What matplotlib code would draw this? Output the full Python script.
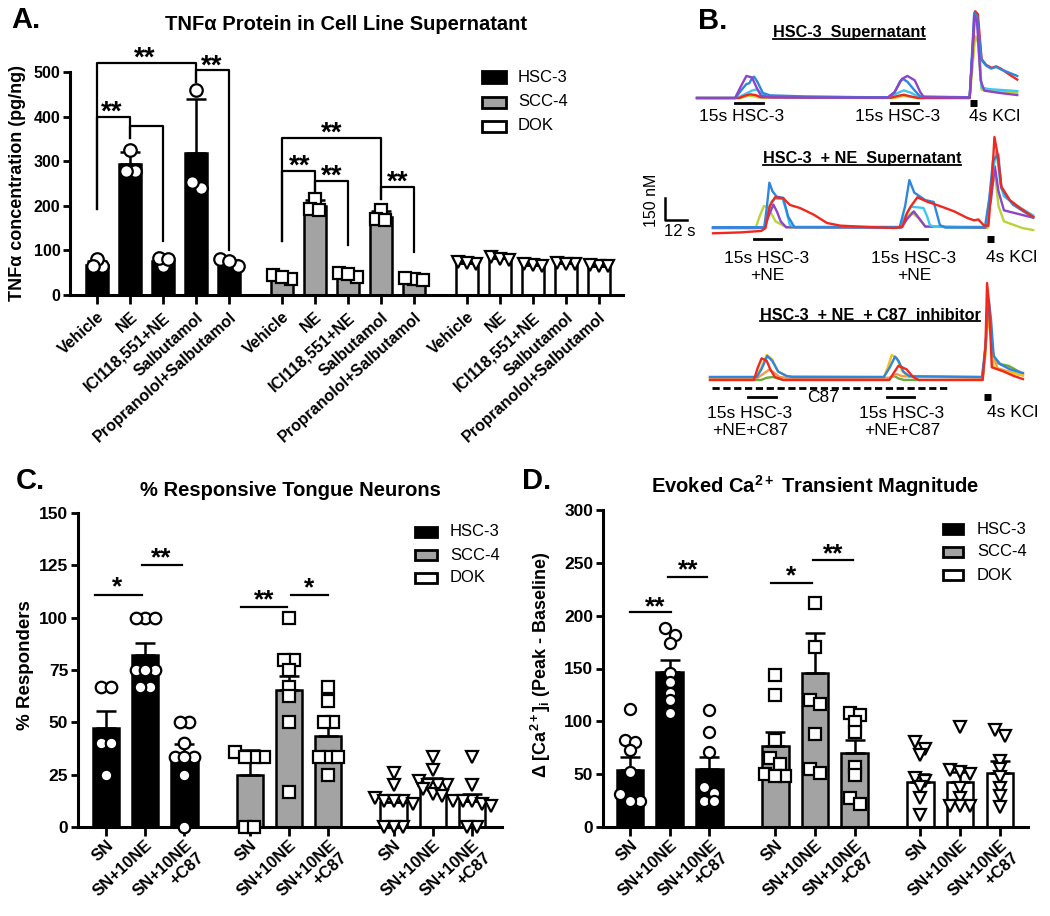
import numpy as np
import matplotlib
matplotlib.use('Agg')
import matplotlib.pyplot as plt
from matplotlib.patches import Rectangle
from matplotlib.lines import Line2D
from matplotlib.transforms import offset_copy

plt.rcParams['font.family'] = ['Liberation Sans', 'DejaVu Sans']
plt.rcParams['mathtext.fontset'] = 'custom'
plt.rcParams['mathtext.rm'] = 'Liberation Sans:bold'
plt.rcParams['mathtext.it'] = 'Liberation Sans:bold'
plt.rcParams['mathtext.bf'] = 'Liberation Sans:bold'
plt.rcParams['mathtext.default'] = 'rm'

# ---------------- data ----------------
cell_lines = ['HSC-3', 'SCC-4', 'DOK']

# A. TNFa protein (pg/ng), mean, SD and single wells
a_labels = ['Vehicle', 'NE', 'ICI118,551+NE', 'Salbutamol', 'Propranolol+Salbutamol']
a_mean_hsc = [68, 293, 76, 318, 70]
a_mean_scc = [40, 200, 46, 176, 36]
a_mean_dok = [71, 84, 67, 71, 64]
a_sd_hsc = [8, 27, 10, 122, 8]
a_sd_scc = [8, 14, 6, 12, 5]
a_sd_dok = [5, 6, 4, 4, 4]
a_pts_hsc = [[64, 81, 64], [324, 278, 278], [64, 83, 80], [459, 241, 253], [64, 80, 76]]
a_pts_scc = [[36, 44, 40], [215, 193, 190], [40, 50, 48], [190, 170, 168], [36, 38, 34]]
a_pts_dok = [[70, 74, 72], [86, 80, 78], [68, 70, 66], [72, 70, 70], [66, 68, 64]]

# C. % responders
cd_labels = ['SN', 'SN+10NE', 'SN+10NE\n+C87']
c_mean_hsc = [47.5, 82, 33.5]
c_mean_scc = [25, 65.5, 43.5]
c_mean_dok = [12, 21.5, 12.5]
c_sem_hsc = [8, 6, 6]
c_sem_scc = [12, 6.5, 5]
c_sem_dok = [3, 2, 3.5]
c_pts_hsc = [[66.7, 66.7, 40, 40, 25], [100, 100, 100, 75, 75, 75, 66.7, 66.7],
             [50, 50, 40, 33.3, 33.3, 33.3, 25, 0]]
c_pts_scc = [[36, 33.3, 33.3, 33.3, 0, 0], [100, 80, 80, 75, 66.7, 62.5, 50, 16.7],
             [66.7, 60, 50, 50, 33.3, 33.3, 33.3, 25]]
c_pts_dok = [[26, 20, 14, 12.5, 12.5, 12.5, 11, 0, 0, 0], [33.3, 27, 22, 20, 20, 20, 18, 16, 15],
             [33.3, 20, 12.5, 12.5, 12.5, 11, 10, 0, 0]]

# D. transient magnitude (nM)
d_mean_hsc = [54, 147, 55]
d_mean_scc = [77, 146, 70]
d_mean_dok = [43, 43, 51]
d_sem_hsc = [12, 11, 11]
d_sem_scc = [13, 38, 12]
d_sem_dok = [7, 9, 11]
d_pts_hsc = [[112, 82, 80, 73, 52, 31, 25, 25], [188, 182, 174, 146, 137, 127, 120, 108],
             [111, 90, 71, 38, 32, 25, 25]]
d_pts_scc = [[144, 125, 82, 65, 60, 50, 48, 48], [212, 170, 120, 116, 88, 55, 51],
             [108, 106, 99, 90, 57, 49, 27, 22]]
d_pts_dok = [[80, 74, 68, 46, 44, 38, 27, 11], [95, 54, 52, 50, 37, 27, 20, 20, 20],
             [92, 86, 62, 55, 47, 37, 29, 19]]

# significance: (x left, x right, y, left leg end, right leg end, label, label x, label y)
a_sig = [(0, 1, 400, 193, 352, '**', 0.44, 429),
         (1, 2, 378, 352, 122, '', 0, 0),
         (0, 3, 520, 193, 478, '**', 1.45, 549),
         (3, 4, 504, 478, 100, '**', 3.47, 531),
         (5.6, 6.6, 278, 120, 231, '**', 6.14, 307),
         (6.6, 7.6, 256, 231, 111, '**', 7.1, 284),
         (5.6, 8.6, 351, 120, 216, '**', 7.1, 382),
         (8.6, 9.6, 242, 216, 96, '**', 9.1, 271)]
c_sig = [(-0.28, 0.92, 111, '*', 0.28, 118), (0.92, 1.94, 125, '**', 1.42, 132),
         (3.43, 4.6, 105, '**', 4.02, 112), (4.7, 5.65, 111, '*', 5.17, 117.5)]
d_sig = [(0.0, 1.03, 203, '**', 0.63, 215), (0.96, 1.94, 237, '**', 1.46, 250),
         (3.55, 4.58, 231, '*', 4.06, 245), (4.61, 5.62, 253, '**', 5.11, 265)]

# B. Ca2+ traces: (time s, nM above baseline) key points per neuron
trace_colors = {'purple': '#8E44C8', 'blue': '#2E86DE', 'cyan': '#3EC8EE', 'red': '#F0281E',
                'ygreen': '#B8D43A', 'yellow': '#F2C21A', 'orange': '#F39A4A', 'green': '#6AAA3A'}
b_row1 = {
    'ygreen': [(0, 0), (24, 0), (28, 15), (31, 12), (34, 3), (108, 0), (112, 12), (116, 10), (120, 0), (149, 0),
               (150.5, 200), (152, 420), (153.5, 380), (155.5, 56), (165, 45), (175, 36)],
    'cyan': [(0, 0), (22, 0), (26, 25), (30, 50), (32.6, 59), (35, 35), (38, 10), (60, 8), (105, 5), (109, 30),
             (113, 52), (117, 35), (121, 8), (149, 3), (150.5, 320), (151.8, 570), (153.3, 540), (155.5, 70),
             (160, 60), (175, 47)],
    'red': [(0, 0), (23, 0), (26, 15), (29, 25), (32, 20), (35, 5), (106, 2), (110, 15), (113, 22), (117, 10),
            (121, 0), (149, 0), (150.5, 300), (152, 590), (153.5, 570), (155.5, 265), (158, 225), (161, 205),
            (163.5, 215), (166, 200), (170, 165), (175, 125)],
    'blue': [(0, 0), (21, 0), (24, 50), (27, 95), (28.6, 100), (30, 135), (31.2, 145), (33, 110), (36, 34),
             (40, 18), (60, 10), (90, 5), (105, 5), (108, 40), (111, 115), (112.7, 129), (115, 110), (119, 50),
             (122, 10), (149, 5), (150.5, 350), (151.5, 580), (153, 560), (155.5, 258), (158, 220), (160.7, 200),
             (163.5, 211), (166, 195), (170, 175), (175, 150)],
    'purple': [(0, 0), (20.8, 0), (24, 80), (27, 150), (30, 140), (33, 60), (35, 15), (40, 5), (60, 3), (104, 2),
               (108, 40), (112, 130), (115, 150), (119, 120), (122, 40), (124, 5), (149, 3), (150.5, 300),
               (151.5, 560), (153, 520), (155, 120), (157, 50), (165, 35), (175, 20)],
}
b_row2 = {
    'ygreen': [(0, 0), (23.3, 0), (25.5, 80), (27.8, 150), (30, 140), (34.2, 45), (40, 5), (102, 3), (105, 60),
               (108.6, 104), (112, 70), (116, 10), (150, 0), (152, 250), (154, 380), (156, 150), (159, 45),
               (169, 0), (175, -14)],
    'purple': [(0, 0), (28, 0), (31, 100), (33, 159), (35, 110), (37, 45), (40, 5), (103, 3), (106, 60),
               (109.7, 113), (113, 60), (116, 10), (149, 3), (152, 200), (154, 420), (156, 250), (159, 120),
               (175, 70)],
    'cyan': [(0, 5), (28, 5), (30, 100), (32, 180), (34, 200), (38, 198), (40, 120), (42, 20), (45, 8), (102, 8),
             (105, 80), (108, 145), (112, 140), (115, 136), (117, 80), (118.5, 20), (121, 8), (149, 8), (151, 200),
             (153, 400), (155, 520), (157, 300), (159, 215), (165, 160), (175, 85)],
    'blue': [(0, 5), (28, 5), (29.5, 150), (30.8, 308), (32.5, 250), (34.8, 213), (38.4, 205), (41, 80),
             (44.5, 5), (102, 5), (105, 150), (107.3, 326), (110, 240), (116, 190), (120.6, 177), (124, 20),
             (127, 3), (148.6, 5), (151, 200), (153, 460), (155.9, 500), (157.6, 272), (160.3, 215),
             (163.9, 159), (170, 110), (175, 73)],
    'red': [(0, -36), (15, -30), (26.4, -20), (28.7, 0), (31, 150), (33.9, 209), (38.4, 202), (42, 157),
            (47.5, 136), (55, 91), (62.3, 34), (69.6, 16), (84, 7), (98.9, 0), (103.5, 8), (106, 100), (108, 145),
            (111.7, 209), (117, 179), (124.5, 147), (131.8, 113), (139, 68), (142.7, 52), (145, 58), (148, 18),
            (150.5, 15), (152.3, 300), (153.8, 619), (155.5, 500), (157.6, 281), (162.2, 190), (167.7, 136),
            (175, 75)],
}
b_row3 = {
    'green': [(0, -20), (28, -20), (31, -5), (34.5, 0), (37, -10), (40, -20), (97, -20), (99, 0), (101, 5),
              (103, -10), (106, -20), (149, -20), (150.5, 200), (152.1, 422), (153.5, 300), (155.1, 118),
              (158, 90), (163.3, 75), (171, 22)],
    'orange': [(0, -5), (26, -5), (29, 20), (32.4, 50), (35, 30), (38, 0), (42, -5), (98, -5), (102, 20),
               (105, 5), (149, -5), (151, 300), (152.5, 450), (154, 200), (157, 60), (171, 10)],
    'yellow': [(0, 0), (25, 0), (28, 60), (31, 150), (34, 120), (37, 40), (42, 5), (95, 0), (97, 60),
               (99.3, 150), (102, 130), (105, 40), (108, 5), (148.6, 0), (150.5, 150), (152, 430), (153.5, 300),
               (155, 66), (160, 40), (171, 11)],
    'blue': [(0, 0), (25.5, 0), (28, 50), (31.3, 143), (34, 110), (37.3, 36), (41.9, 7), (45, 0), (95, 0),
             (98, 60), (101.1, 138), (103, 110), (105.7, 36), (109, 5), (148.6, 0), (150.5, 200), (152.3, 524),
             (153.5, 400), (155, 143), (158.7, 86), (164, 52), (170.4, 29), (171, 28)],
    'red': [(0, -20), (24, -20), (26, 60), (28.2, 127), (31, 110), (33, 50), (35.5, 0), (40, -20), (98, -20),
            (100, 20), (102.9, 75), (105, 66), (107.4, 52), (111, 0), (114, -20), (149, -20), (150.5, 200),
            (151.4, 639), (152.5, 500), (154, 66), (160, 40), (166, 7), (171, -14)],
}
b_stim_on = [[21, 106], [22.4, 102], [20.8, 96.7]]
b_kcl_on = [149, 149.7, 149.7]
stim_dur, kcl_dur = 15, 4
c87_span = (1, 130)

# ---------------- figure helpers ----------------
W, H = 1050, 916
fig = plt.figure(figsize=(W / 100, H / 100), dpi=100)


def px_axes(l, t, r, b):
    return fig.add_axes([l / W, 1 - b / H, (r - l) / W, (b - t) / H])


def px_text(x, y, s, **kw):
    return fig.text(x / W, 1 - y / H, s, **kw)


bar_colors = ['black', '#a3a3a3', 'white']
markers = ['o', 's', 'v']


def swarm(ax, x, vals, d, step):
    # spread points sharing a row horizontally, centred on the bar
    tr = ax.transData
    inv = tr.inverted()
    x0 = tr.transform((x, 0))[0]
    order = np.argsort(vals)[::-1]
    rows, cur = [], []
    for i in order:
        yp = tr.transform((x, vals[i]))[1]
        if cur and abs(cur[0][1] - yp) > 0.6 * d:
            rows.append(cur)
            cur = []
        cur.append((i, yp))
    if cur:
        rows.append(cur)
    xs = np.zeros(len(vals))
    for row in rows:
        m = len(row)
        for k, (i, yp) in enumerate(row):
            xs[i] = inv.transform((x0 + (k - (m - 1) / 2) * step, yp))[0]
    return xs


def bar_panel(ax, means, errs, pts, offset, width, ms, d, step):
    for g in range(3):
        n = len(means[g])
        xs = np.arange(n) + g * offset
        ax.bar(xs, means[g], width=width, color=bar_colors[g], edgecolor='black', linewidth=1.8, zorder=2)
        ax.errorbar(xs, means[g], yerr=[np.zeros(n), errs[g]], fmt='none', ecolor='black',
                    elinewidth=1.8, capsize=7, capthick=1.8, zorder=3)
        for i in range(n):
            px = swarm(ax, xs[i], pts[g][i], d, step)
            ax.plot(px, pts[g][i], linestyle='none', marker=markers[g], ms=ms, mfc='white',
                    mec='black', mew=1.6, zorder=4, clip_on=False)


def style_axes(ax, labels, offset, ylim, yticks, tfs, xfs, rot, pad):
    n = len(labels)
    ticks = np.concatenate([np.arange(n) + g * offset for g in range(3)])
    ax.set_ylim(*ylim)
    ax.set_yticks(yticks)
    ax.set_xticks(ticks)
    ax.set_xticklabels(labels * 3, rotation=rot, ha='right', rotation_mode='anchor',
                       fontweight='bold', fontsize=xfs, linespacing=1.15)
    for lab in ax.get_yticklabels():
        lab.set_fontweight('bold')
        lab.set_fontsize(tfs)
    for s in ['top', 'right']:
        ax.spines[s].set_visible(False)
    for s in ['left', 'bottom']:
        ax.spines[s].set_linewidth(2.2)
    ax.tick_params(axis='y', length=5, width=2, pad=2)
    ax.tick_params(axis='x', length=6.5, width=2, pad=pad)
    ax.patch.set_visible(False)


def stars(ax, x, y, s, fs):
    tr = offset_copy(ax.transData, fig=fig, y=-0.56 * fs, units='points')
    ax.text(x, y, s, transform=tr, ha='center', va='baseline', fontsize=fs, fontweight='bold',
            clip_on=False)


def legend_px(x0, x1, ys, tx, fs, h):
    for y, c, lab in zip(ys, bar_colors, cell_lines):
        fig.add_artist(Rectangle((x0 / W, 1 - (y + h / 2) / H), (x1 - x0) / W, h / H,
                                 transform=fig.transFigure, facecolor=c, edgecolor='black', lw=2))
        px_text(tx, y, lab, fontsize=fs, va='center', ha='left')


# ---------------- A ----------------
axA = px_axes(70, 72, 623, 295)
axA.set_xlim(-0.82, 15.94)
style_axes(axA, a_labels, 5.6, (0, 500), [0, 100, 200, 300, 400, 500], 11.5, 11.5, 42, 4)
bar_panel(axA, [a_mean_hsc, a_mean_scc, a_mean_dok], [a_sd_hsc, a_sd_scc, a_sd_dok],
          [a_pts_hsc, a_pts_scc, a_pts_dok], 5.6, 0.67, 9, 12, 9)
for x1, x2, y, yl, yr, s, tx, ty in a_sig:
    axA.plot([x1, x1, x2, x2], [yl, y, y, yr], color='black', lw=1.6, clip_on=False, zorder=5)
    if s:
        stars(axA, tx, ty, s, 20)
px_text(26, 20, 'A.', fontsize=21, fontweight='bold', ha='center', va='center')
px_text(346, 24, 'TNFα Protein in Cell Line Supernatant', fontsize=14.5, fontweight='bold',
        ha='center', va='center')
px_text(18, 183, 'TNFα concentration (pg/ng)', fontsize=13, fontweight='bold', rotation=90,
        ha='center', va='center')
legend_px(482, 506, [77, 102, 126], 518, 12, 11)

# ---------------- C ----------------
axC = px_axes(78, 513, 502, 827)
axC.set_xlim(-0.71, 10.08)
style_axes(axC, cd_labels, 3.66, (0, 150), [0, 25, 50, 75, 100, 125, 150], 12.5, 12, 43, 1)
bar_panel(axC, [c_mean_hsc, c_mean_scc, c_mean_dok], [c_sem_hsc, c_sem_scc, c_sem_dok],
          [c_pts_hsc, c_pts_scc, c_pts_dok], 3.66, 0.67, 8.3, 11.5, 9.5)
for x1, x2, y, s, tx, ty in c_sig:
    axC.plot([x1, x2], [y, y], color='black', lw=1.6, clip_on=False)
    stars(axC, tx, ty, s, 19)
px_text(30, 481, 'C.', fontsize=21, fontweight='bold', ha='center', va='center')
px_text(290, 490, '% Responsive Tongue Neurons', fontsize=14.5, fontweight='bold', ha='center', va='center')
px_text(25, 665, '% Responders', fontsize=13.5, fontweight='bold', rotation=90, ha='center', va='center')
legend_px(415, 437, [532, 555, 578], 450, 12, 10)

# ---------------- D ----------------
axD = px_axes(603, 510, 1028, 827)
axD.set_xlim(-0.68, 10.03)
style_axes(axD, cd_labels, 3.66, (0, 300), [0, 50, 100, 150, 200, 250, 300], 12.5, 12, 43, 1)
bar_panel(axD, [d_mean_hsc, d_mean_scc, d_mean_dok], [d_sem_hsc, d_sem_scc, d_sem_dok],
          [d_pts_hsc, d_pts_scc, d_pts_dok], 3.66, 0.67, 8, 11, 10)
for x1, x2, y, s, tx, ty in d_sig:
    axD.plot([x1, x2], [y, y], color='black', lw=1.6, clip_on=False)
    stars(axD, tx, ty, s, 19)
px_text(537, 481, 'D.', fontsize=21, fontweight='bold', ha='center', va='center')
px_text(815, 486, 'Evoked Ca$^{2+}$ Transient Magnitude', fontsize=14.5, fontweight='bold',
        ha='center', va='center')
px_text(541, 665, 'Δ [Ca$^{2+}$]$_{i}$ (Peak - Baseline)', fontsize=13, fontweight='bold', rotation=90,
        ha='center', va='center')
legend_px(943, 963, [529, 552, 575], 977, 12, 10)

# ---------------- B ----------------
px_per_s, nm_per_px = 1.83, 6.8
row_x0 = [697, 713, 710]
row_base = [98, 228, 377]
rows = [b_row1, b_row2, b_row3]
stim_y = [-34, -75, -136]
axB = []
for r in range(3):
    vmax, vmin = 650, -420
    ax = px_axes(row_x0[r], row_base[r] - vmax / nm_per_px,
                 row_x0[r] + 180 * px_per_s, row_base[r] - vmin / nm_per_px)
    ax.set_xlim(0, 180)
    ax.set_ylim(vmin, vmax)
    ax.axis('off')
    for name, pts in rows[r].items():
        t, v = zip(*pts)
        ax.plot(t, v, color=trace_colors[name], lw=1.7, solid_joinstyle='round', clip_on=False)
    for s0 in b_stim_on[r]:
        ax.plot([s0, s0 + stim_dur], [stim_y[r], stim_y[r]], color='black', lw=2, clip_on=False)
    ax.plot([b_kcl_on[r], b_kcl_on[r] + kcl_dur], [stim_y[r], stim_y[r]], color='black', lw=5,
            solid_capstyle='butt', clip_on=False)
    axB.append(ax)

axB[2].plot(c87_span, [-75, -75], color='black', lw=2, linestyle=(0, (2.6, 1.3)), clip_on=False)
# scale bar 150 nM / 12 s
axB[1].plot([-26.2, -26.2, -14.2], [204, 54, 54], color='black', lw=1.8, clip_on=False)

tfs = 12.5
px_text(742, 117, '15s HSC-3', fontsize=tfs, ha='center', va='center')
px_text(898, 117, '15s HSC-3', fontsize=tfs, ha='center', va='center')
px_text(995, 117, '4s KCl', fontsize=tfs, ha='center', va='center')
px_text(767, 267, '15s HSC-3\n+NE', fontsize=tfs, ha='center', va='center')
px_text(914, 267, '15s HSC-3\n+NE', fontsize=tfs, ha='center', va='center')
px_text(1012, 257, '4s KCl', fontsize=tfs, ha='center', va='center')
px_text(750, 422, '15s HSC-3\n+NE+C87', fontsize=tfs, ha='center', va='center')
px_text(902, 422, '15s HSC-3\n+NE+C87', fontsize=tfs, ha='center', va='center')
px_text(1013, 412, '4s KCl', fontsize=tfs, ha='center', va='center')
px_text(823, 398, 'C87', fontsize=tfs, ha='center', va='center')
px_text(651, 200, '150 nM', fontsize=11.5, rotation=90, ha='center', va='center')
px_text(680, 232, '12 s', fontsize=12, ha='center', va='center')
px_text(713, 21, 'B.', fontsize=21, fontweight='bold', ha='center', va='center')

titles = [px_text(849, 33, 'HSC-3  Supernatant', fontsize=11.7, fontweight='bold', ha='center', va='center'),
          px_text(862, 159, 'HSC-3  + NE  Supernatant', fontsize=11.7, fontweight='bold', ha='center',
                  va='center'),
          px_text(870, 315, 'HSC-3  + NE  + C87  inhibitor', fontsize=11.7, fontweight='bold', ha='center',
                  va='center')]
renderer = fig.canvas.get_renderer()
for t in titles:
    bb = t.get_window_extent(renderer)
    y = bb.y0 + 2
    fig.add_artist(Line2D([bb.x0 / W, bb.x1 / W], [y / H, y / H], color='black', lw=1.3,
                          transform=fig.transFigure))

fig.savefig('out.png', dpi=100)
